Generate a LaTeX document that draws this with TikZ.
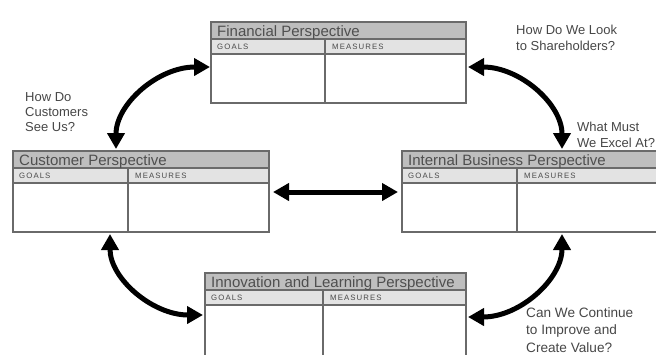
\documentclass[tikz,border=0pt]{standalone}
\usepackage{fontspec}
\setmainfont{Liberation Sans}
\newfontfamily\headfont[LetterSpace=14]{Liberation Sans}
\usetikzlibrary{arrows.meta,calc}

\definecolor{framegray}{HTML}{6A6A6A}
\definecolor{titlefill}{HTML}{BEBEBE}
\definecolor{headfill}{HTML}{E3E3E3}
\definecolor{titleink}{HTML}{4F4F4F}
\definecolor{headink}{HTML}{4A4A4A}
\definecolor{noteink}{HTML}{474747}

\tikzset{
  panel/.style={rectangle, fill=white, inner sep=0pt, outer sep=0pt, anchor=north west},
  rule/.style={draw=framegray, line width=1.3bp},
  titletext/.style={anchor=base west, inner sep=0pt, text=titleink,
    font=\fontsize{15bp}{18bp}\selectfont},
  headtext/.style={anchor=base west, inner sep=0pt, text=headink,
    font=\headfont\fontsize{7.8bp}{9bp}\selectfont},
  note/.style={anchor=north west, align=left, inner sep=0pt, text=noteink,
    font=\fontsize{13bp}{15.4bp}\selectfont},
  link/.style={line width=5bp, black,
    {Triangle[length=16bp,width=17bp]}-{Triangle[length=16bp,width=17bp]}},
}

% #1 name, #2 x, #3 y, #4 width, #5 height, #6 column divider offset, #7 title
\newcommand\drawpanel[7]{%
  \node[panel, minimum width=#4bp, minimum height=#5bp] (#1) at (#2,#3) {};
  \fill[titlefill] (#1.north west) rectangle ($(#1.north east)+(0,17)$);
  \fill[headfill] ($(#1.north west)+(0,17)$) rectangle ($(#1.north east)+(0,32)$);
  \draw[rule] ($(#1.north west)+(0,17)$) -- ($(#1.north east)+(0,17)$);
  \draw[rule] ($(#1.north west)+(0,32)$) -- ($(#1.north east)+(0,32)$);
  \draw[rule] ($(#1.north west)+(#6,17)$) -- ($(#1.south west)+(#6,0)$);
  \draw[rule] (#1.north west) rectangle (#1.south east);
  \node[titletext] (#1-title) at ($(#1.north west)+(6,14.5)$) {#7};
  \node[headtext] (#1-goals) at ($(#1.north west)+(6,27.5)$) {GOALS};
  \node[headtext] (#1-measures) at ($(#1.north west)+(#6+7,27.5)$) {MEASURES};
}

\begin{document}
\begin{tikzpicture}[x=1bp, y=-1bp]
  \useasboundingbox (0,0) rectangle (656,354);
  \clip (0,0) rectangle (656,354);
  \fill[white] (0,0) rectangle (656,354);

  % the four perspectives
  \drawpanel{fin}{211}{22}{255}{81}{114}{Financial Perspective}
  \drawpanel{cust}{13}{151}{256}{81}{115}{Customer Perspective}
  \drawpanel{int}{402}{151}{258}{81}{115}{Internal Business Perspective}
  \drawpanel{inn}{205}{273}{261}{86}{118}{Innovation and Learning Perspective}

  % guiding questions
  \node[note] (q-share) at (516,25) {How Do We Look\\to Shareholders?};
  \node[note] (q-excel) at (577,122) {What Must\\We Excel At?};
  \node[note] (q-cust) at (25,92) {How Do\\Customers\\See Us?};
  \node[note, font=\fontsize{13.6bp}{17.5bp}\selectfont] (q-value) at (526,307)
    {Can We Continue\\to Improve and\\Create Value?};

  % links between the perspectives
  \draw[link] ($(fin.west)+(-1,4.5)$) .. controls +(-52,0) and +(0,-45) .. ($(cust.north west)+(103,-2)$);
  \draw[link] ($(fin.east)+(2,4.5)$) .. controls +(52,0) and +(0,-45) .. ($(int.north west)+(160,-2)$);
  \draw[link] ($(cust.south west)+(97,2)$) .. controls +(0,45) and +(-50,0) .. ($(inn.west)+(-2,-1)$);
  \draw[link] ($(int.south west)+(160,2)$) .. controls +(0,45) and +(52,0) .. ($(inn.east)+(2,1)$);
  \draw[link] ($(cust.east)+(4,0.5)$) -- ($(int.west)+(-4,0.5)$);
\end{tikzpicture}
\end{document}
